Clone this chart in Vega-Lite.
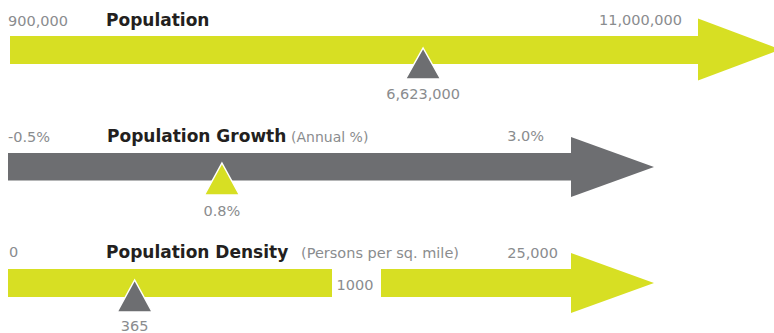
{
  "$schema": "https://vega.github.io/schema/vega-lite/v6.json",
  "width": 774,
  "height": 333,
  "padding": 0,
  "autosize": {"type": "none"},
  "background": "white",
  "config": {"view": {"stroke": null}, "font": "DejaVu Sans"},
  "datasets": {
    "indicators": [
      {"indicator": "Population", "subtitle": "", "min": 900000, "max": 11000000, "value": 6623000, "minLabel": "900,000", "maxLabel": "11,000,000", "valueLabel": "6,623,000"},
      {"indicator": "Population Growth", "subtitle": "(Annual %)", "min": -0.5, "max": 3.0, "value": 0.8, "minLabel": "-0.5%", "maxLabel": "3.0%", "valueLabel": "0.8%"},
      {"indicator": "Population Density", "subtitle": "(Persons per sq. mile)", "min": 0, "break": 1000, "max": 25000, "value": 365, "minLabel": "0", "breakLabel": "1000", "maxLabel": "25,000", "valueLabel": "365"}
    ]
  },
  "data": {"name": "indicators"},
  "resolve": {"scale": {"x": "independent"}},
  "layer": [
    {
      "transform": [{"filter": "datum.indicator === 'Population'"}],
      "layer": [
        {
          "mark": {"type": "rect", "color": "#d7df23"},
          "encoding": {
            "x": {"field": "min", "type": "quantitative", "scale": {"domain": [900000, 11000000], "range": [10, 739], "nice": false, "zero": false}, "axis": null},
            "x2": {"field": "max"},
            "y": {"value": 36},
            "y2": {"value": 64}
          }
        },
        {
          "mark": {"type": "point", "shape": "M-41,-31L42,0L-41,31Z", "size": 4, "filled": true, "color": "#d7df23", "opacity": 1, "strokeWidth": 0},
          "encoding": {
            "x": {"field": "max", "type": "quantitative", "scale": {"domain": [900000, 11000000], "range": [10, 739], "nice": false, "zero": false}, "axis": null},
            "y": {"value": 49.5}
          }
        },
        {
          "mark": {"type": "point", "shape": "M0,0L17.5,31L-17.5,31Z", "size": 4, "filled": true, "fill": "#6d6e71", "stroke": "white", "strokeWidth": 1.5, "opacity": 1},
          "encoding": {
            "x": {"field": "value", "type": "quantitative", "scale": {"domain": [900000, 11000000], "range": [10, 739], "nice": false, "zero": false}, "axis": null},
            "y": {"value": 48}
          }
        },
        {
          "mark": {"type": "text", "align": "left", "baseline": "alphabetic", "fontSize": 14.5, "color": "#8a8c8e", "dx": -2},
          "encoding": {
            "x": {"field": "min", "type": "quantitative", "scale": {"domain": [900000, 11000000], "range": [10, 739], "nice": false, "zero": false}, "axis": null},
            "y": {"value": 26},
            "text": {"field": "minLabel"}
          }
        },
        {
          "mark": {"type": "text", "align": "left", "baseline": "alphabetic", "fontSize": 17, "fontWeight": "bold", "color": "#231f20", "dx": 96},
          "encoding": {
            "x": {"field": "min", "type": "quantitative", "scale": {"domain": [900000, 11000000], "range": [10, 739], "nice": false, "zero": false}, "axis": null},
            "y": {"value": 26},
            "text": {"field": "indicator"}
          }
        },
        {
          "mark": {"type": "text", "align": "right", "baseline": "alphabetic", "fontSize": 14.5, "color": "#8a8c8e", "dx": -57},
          "encoding": {
            "x": {"field": "max", "type": "quantitative", "scale": {"domain": [900000, 11000000], "range": [10, 739], "nice": false, "zero": false}, "axis": null},
            "y": {"value": 25},
            "text": {"field": "maxLabel"}
          }
        },
        {
          "mark": {"type": "text", "align": "center", "baseline": "alphabetic", "fontSize": 14.5, "color": "#8a8c8e"},
          "encoding": {
            "x": {"field": "value", "type": "quantitative", "scale": {"domain": [900000, 11000000], "range": [10, 739], "nice": false, "zero": false}, "axis": null},
            "y": {"value": 99},
            "text": {"field": "valueLabel"}
          }
        }
      ]
    },
    {
      "transform": [{"filter": "datum.indicator === 'Population Growth'"}],
      "layer": [
        {
          "mark": {"type": "rect", "color": "#6d6e71"},
          "encoding": {
            "x": {"field": "min", "type": "quantitative", "scale": {"domain": [-0.5, 3.0], "range": [8, 584], "nice": false, "zero": false}, "axis": null},
            "x2": {"field": "max"},
            "y": {"value": 153},
            "y2": {"value": 180.5}
          }
        },
        {
          "mark": {"type": "point", "shape": "M-13,-30L70,0L-13,30Z", "size": 4, "filled": true, "color": "#6d6e71", "opacity": 1, "strokeWidth": 0},
          "encoding": {
            "x": {"field": "max", "type": "quantitative", "scale": {"domain": [-0.5, 3.0], "range": [8, 584], "nice": false, "zero": false}, "axis": null},
            "y": {"value": 167}
          }
        },
        {
          "mark": {"type": "point", "shape": "M0,0L17.5,32L-17.5,32Z", "size": 4, "filled": true, "fill": "#d7df23", "stroke": "white", "strokeWidth": 1.5, "opacity": 1},
          "encoding": {
            "x": {"field": "value", "type": "quantitative", "scale": {"domain": [-0.5, 3.0], "range": [8, 584], "nice": false, "zero": false}, "axis": null},
            "y": {"value": 163}
          }
        },
        {
          "mark": {"type": "text", "align": "left", "baseline": "alphabetic", "fontSize": 14.5, "color": "#8a8c8e", "dx": 0},
          "encoding": {
            "x": {"field": "min", "type": "quantitative", "scale": {"domain": [-0.5, 3.0], "range": [8, 584], "nice": false, "zero": false}, "axis": null},
            "y": {"value": 142},
            "text": {"field": "minLabel"}
          }
        },
        {
          "mark": {"type": "text", "align": "left", "baseline": "alphabetic", "fontSize": 17, "fontWeight": "bold", "color": "#231f20", "dx": 99},
          "encoding": {
            "x": {"field": "min", "type": "quantitative", "scale": {"domain": [-0.5, 3.0], "range": [8, 584], "nice": false, "zero": false}, "axis": null},
            "y": {"value": 142},
            "text": {"field": "indicator"}
          }
        },
        {
          "mark": {"type": "text", "align": "left", "baseline": "alphabetic", "fontSize": 14, "color": "#8a8c8e", "dx": 283},
          "encoding": {
            "x": {"field": "min", "type": "quantitative", "scale": {"domain": [-0.5, 3.0], "range": [8, 584], "nice": false, "zero": false}, "axis": null},
            "y": {"value": 142},
            "text": {"field": "subtitle"}
          }
        },
        {
          "mark": {"type": "text", "align": "right", "baseline": "alphabetic", "fontSize": 14.5, "color": "#8a8c8e", "dx": -40},
          "encoding": {
            "x": {"field": "max", "type": "quantitative", "scale": {"domain": [-0.5, 3.0], "range": [8, 584], "nice": false, "zero": false}, "axis": null},
            "y": {"value": 141},
            "text": {"field": "maxLabel"}
          }
        },
        {
          "mark": {"type": "text", "align": "center", "baseline": "alphabetic", "fontSize": 14.5, "color": "#8a8c8e"},
          "encoding": {
            "x": {"field": "value", "type": "quantitative", "scale": {"domain": [-0.5, 3.0], "range": [8, 584], "nice": false, "zero": false}, "axis": null},
            "y": {"value": 216},
            "text": {"field": "valueLabel"}
          }
        }
      ]
    },
    {
      "transform": [{"filter": "datum.indicator === 'Population Density'"}],
      "layer": [
        {
          "mark": {"type": "rect", "color": "#d7df23", "x2Offset": -23},
          "encoding": {
            "x": {"field": "min", "type": "quantitative", "scale": {"domain": [0, 1000, 25000], "range": [8, 355, 571], "nice": false, "zero": false}, "axis": null},
            "x2": {"field": "break"},
            "y": {"value": 269},
            "y2": {"value": 297}
          }
        },
        {
          "mark": {"type": "rect", "color": "#d7df23", "xOffset": 26},
          "encoding": {
            "x": {"field": "break", "type": "quantitative", "scale": {"domain": [0, 1000, 25000], "range": [8, 355, 571], "nice": false, "zero": false}, "axis": null},
            "x2": {"field": "max"},
            "y": {"value": 269},
            "y2": {"value": 297}
          }
        },
        {
          "mark": {"type": "point", "shape": "M0,-30L83,0L0,30Z", "size": 4, "filled": true, "color": "#d7df23", "opacity": 1, "strokeWidth": 0},
          "encoding": {
            "x": {"field": "max", "type": "quantitative", "scale": {"domain": [0, 1000, 25000], "range": [8, 355, 571], "nice": false, "zero": false}, "axis": null},
            "y": {"value": 283}
          }
        },
        {
          "mark": {"type": "point", "shape": "M0,0L17.5,32L-17.5,32Z", "size": 4, "filled": true, "fill": "#6d6e71", "stroke": "white", "strokeWidth": 1.5, "opacity": 1},
          "encoding": {
            "x": {"field": "value", "type": "quantitative", "scale": {"domain": [0, 1000, 25000], "range": [8, 355, 571], "nice": false, "zero": false}, "axis": null},
            "y": {"value": 280}
          }
        },
        {
          "mark": {"type": "text", "align": "left", "baseline": "alphabetic", "fontSize": 14.5, "color": "#8a8c8e", "dx": 1},
          "encoding": {
            "x": {"field": "min", "type": "quantitative", "scale": {"domain": [0, 1000, 25000], "range": [8, 355, 571], "nice": false, "zero": false}, "axis": null},
            "y": {"value": 257},
            "text": {"field": "minLabel"}
          }
        },
        {
          "mark": {"type": "text", "align": "left", "baseline": "alphabetic", "fontSize": 17, "fontWeight": "bold", "color": "#231f20", "dx": 98},
          "encoding": {
            "x": {"field": "min", "type": "quantitative", "scale": {"domain": [0, 1000, 25000], "range": [8, 355, 571], "nice": false, "zero": false}, "axis": null},
            "y": {"value": 258},
            "text": {"field": "indicator"}
          }
        },
        {
          "mark": {"type": "text", "align": "left", "baseline": "alphabetic", "fontSize": 14.5, "color": "#8a8c8e", "dx": 293},
          "encoding": {
            "x": {"field": "min", "type": "quantitative", "scale": {"domain": [0, 1000, 25000], "range": [8, 355, 571], "nice": false, "zero": false}, "axis": null},
            "y": {"value": 258},
            "text": {"field": "subtitle"}
          }
        },
        {
          "mark": {"type": "text", "align": "center", "baseline": "alphabetic", "fontSize": 14.5, "color": "#8a8c8e"},
          "encoding": {
            "x": {"field": "break", "type": "quantitative", "scale": {"domain": [0, 1000, 25000], "range": [8, 355, 571], "nice": false, "zero": false}, "axis": null},
            "y": {"value": 290},
            "text": {"field": "breakLabel"}
          }
        },
        {
          "mark": {"type": "text", "align": "right", "baseline": "alphabetic", "fontSize": 14.5, "color": "#8a8c8e", "dx": -13},
          "encoding": {
            "x": {"field": "max", "type": "quantitative", "scale": {"domain": [0, 1000, 25000], "range": [8, 355, 571], "nice": false, "zero": false}, "axis": null},
            "y": {"value": 258},
            "text": {"field": "maxLabel"}
          }
        },
        {
          "mark": {"type": "text", "align": "center", "baseline": "alphabetic", "fontSize": 14.5, "color": "#8a8c8e"},
          "encoding": {
            "x": {"field": "value", "type": "quantitative", "scale": {"domain": [0, 1000, 25000], "range": [8, 355, 571], "nice": false, "zero": false}, "axis": null},
            "y": {"value": 331},
            "text": {"field": "valueLabel"}
          }
        }
      ]
    }
  ]
}
